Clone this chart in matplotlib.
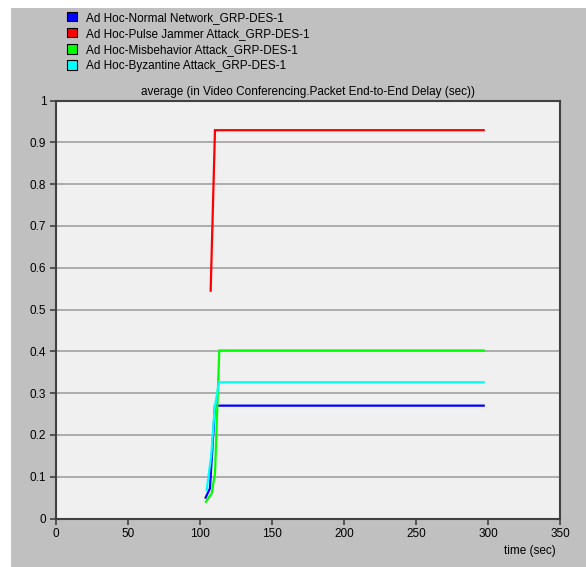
import matplotlib
matplotlib.use('Agg')
import matplotlib.pyplot as plt
from matplotlib.patches import Patch, Rectangle

plt.rcParams['font.family'] = ['Liberation Sans', 'DejaVu Sans']

# series (time in sec, delay in sec)
labels = ['Ad Hoc-Normal Network_GRP-DES-1',
          'Ad Hoc-Pulse Jammer Attack_GRP-DES-1',
          'Ad Hoc-Misbehavior Attack_GRP-DES-1',
          'Ad Hoc-Byzantine Attack_GRP-DES-1']
cores = ['#0000ff', '#ff0000', '#00ff00', '#00ffff']

t_normal = [103.9, 106.9, 110.4, 297]
y_normal = [0.050, 0.072, 0.270, 0.270]

t_jammer = [107.4, 110.4, 297]
y_jammer = [0.545, 0.929, 0.929]

t_misb = [104.1, 108.1, 110.4, 113.4, 297]
y_misb = [0.040, 0.060, 0.108, 0.402, 0.402]

t_byz = [104.6, 107.8, 110.2, 113.2, 297]
y_byz = [0.068, 0.150, 0.265, 0.326, 0.326]

series = [(t_normal, y_normal), (t_jammer, y_jammer), (t_misb, y_misb), (t_byz, y_byz)]

fig = plt.figure(figsize=(5.86, 5.67), dpi=100, facecolor='white')
fig.patches.append(Rectangle((11 / 586, 0), 1, 1 - 8 / 567, transform=fig.transFigure,
                             facecolor='#c0c0c0', edgecolor='none', zorder=-10))

ax = fig.add_axes([56 / 586, 1 - 518.5 / 567, 504 / 586, 418 / 567])
ax.set_facecolor('#f0f0f0')

for (t, y), c in zip(series, cores):
    ax.plot(t, y, color=c, lw=1.6, solid_joinstyle='miter', zorder=3)

ax.set_xlim(0, 350)
ax.set_ylim(0, 1)
ax.set_xticks(range(0, 351, 50))
ax.set_yticks([i / 10 for i in range(11)])
ax.set_yticklabels(['0', '0.1', '0.2', '0.3', '0.4', '0.5', '0.6', '0.7', '0.8', '0.9', '1'])
ax.grid(axis='y', color='#a0a0a0', lw=1.2)
ax.set_axisbelow(True)
for s in ax.spines.values():
    s.set_color('#404040')
    s.set_linewidth(1.5)
ax.tick_params(direction='out', length=4, width=1.2, color='#404040', labelsize=8.5, pad=3)

ax.set_title('average (in Video Conferencing.Packet End-to-End Delay (sec))', fontsize=8.5, pad=4)
fig.text(530 / 586, 1 - 551 / 567, 'time (sec)', fontsize=8.5, ha='center', va='center')

handles = [Patch(facecolor=c, edgecolor='black', lw=0.8) for c in cores]
fig.legend(handles, labels, loc='upper left', bbox_to_anchor=(62 / 586, 1 - 7 / 567),
           frameon=False, fontsize=8.5, handlelength=0.85, handleheight=0.85,
           handletextpad=0.8, labelspacing=0.35, borderaxespad=0)

fig.savefig('out.png', dpi=100, facecolor=fig.get_facecolor())
